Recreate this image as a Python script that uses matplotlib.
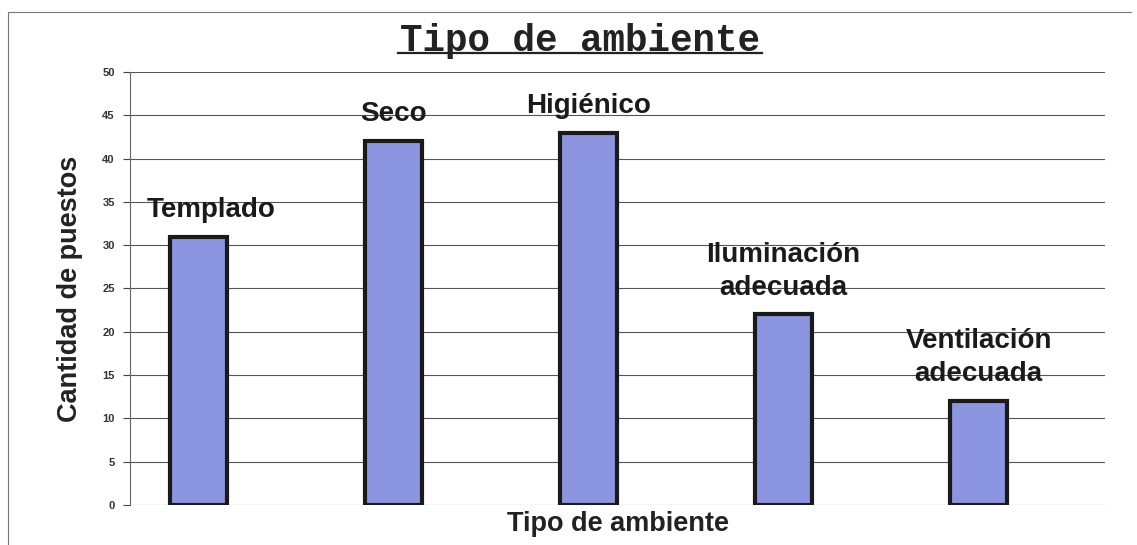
import matplotlib.pyplot as plt
from matplotlib.lines import Line2D
import numpy as np

categorias = ["Templado", "Seco", "Higiénico", "Iluminación\nadecuada", "Ventilación\nadecuada"]
puestos = [31, 42, 43, 22, 12]
y_ticks = [0, 5, 10, 15, 20, 25, 30, 35, 40, 45, 50]

plt.rcParams['font.family'] = ['Liberation Sans', 'DejaVu Sans']

fig = plt.figure(figsize=(11.37, 5.45), dpi=100)
ax = fig.add_axes([0.1143, 0.0734, 0.8576, 0.7945])

x = np.arange(len(categorias))
# bars sit left of the category centre (like an empty second series)
pos = x - 0.148
ax.bar(pos, puestos, width=0.29, color="#8c96e0", edgecolor="#1a1a1a", linewidth=3, zorder=3)

for i, (xi, v, lab) in enumerate(zip(pos, puestos, categorias)):
    dx = 9 if i == 0 else 0  # first label was nudged right in the original
    ax.annotate(lab, (xi, v), xytext=(dx, 10), textcoords="offset points",
                ha="center", va="bottom", fontsize=20, fontweight="bold",
                color="#1a1a1a", linespacing=1.35, zorder=4)

ax.set_xlim(-0.5, 4.5)
ax.set_ylim(0, 50)
ax.set_yticks(y_ticks)
ax.set_xticks([])
ax.tick_params(axis="y", labelsize=8, length=5, width=0.8, color="#444444", labelcolor="#333333", pad=6)
for t in ax.get_yticklabels():
    t.set_fontweight("bold")

ax.grid(axis="y", color="#555555", linewidth=0.8, zorder=0)
for s in ["top", "right", "bottom"]:
    ax.spines[s].set_visible(False)
ax.spines["left"].set_color("#666666")
ax.spines["left"].set_linewidth(0.8)

ax.set_ylabel("Cantidad de puestos", fontsize=19.5, fontweight="bold", color="#222222", labelpad=14)
ax.set_xlabel("Tipo de ambiente", fontsize=19.5, fontweight="bold", color="#222222", labelpad=4)

# underlined courier-like title
fig.text(0.51, 0.925, "Tipo de ambiente", ha="center", va="center",
         family="Liberation Mono", fontsize=27, fontweight="bold", color="#222222")
fig.add_artist(Line2D([0.350, 0.670], [0.903, 0.903], color="#222222", linewidth=1.6))

# outer frame (left and top only visible)
fig.add_artist(Line2D([0.007, 0.007, 0.995], [0.0, 0.978, 0.978], color="#777777", linewidth=0.8))

fig.savefig("out.png", dpi=100, facecolor="white")
